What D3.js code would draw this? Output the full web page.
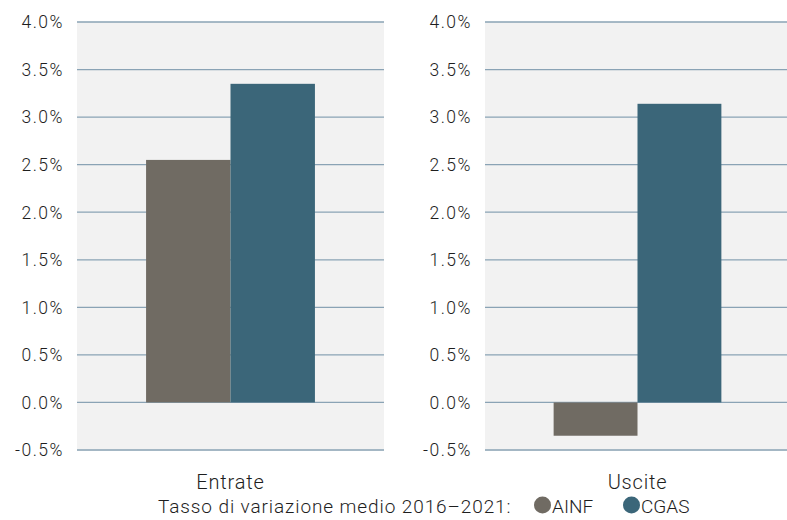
<!DOCTYPE html>
<html>
<head>
<meta charset="utf-8">
<script src="https://cdn.jsdelivr.net/npm/d3@7"></script>
<style>
body { margin: 0; background: #fff; }
svg text { font-family: Roboto, "Liberation Sans", sans-serif; font-weight: 300; fill: #1e1e1e; }
</style>
</head>
<body>
<svg id="chart" width="787" height="520"></svg>
<script>
// data
var panels = ["Entrate", "Uscite"];
var seriesNames = ["AINF", "CGAS"];
var ainf = [2.55, -0.35];
var cgas = [3.35, 3.14];
var yTicks = [-0.5, 0, 0.5, 1, 1.5, 2, 2.5, 3, 3.5, 4];
var legendTitle = "Tasso di variazione medio 2016\u20132021:";

var colors = {AINF: "#706b63", CGAS: "#3b6679"};
var svg = d3.select("#chart");

var y = d3.scaleLinear().domain([-0.5, 4]).range([450, 22]);
// plain hyphen for negatives, like the original
var fmt = d3.formatLocale({decimal: ".", thousands: ",", grouping: [3], currency: ["", ""], minus: "-"})
    .format(".1f");

// two panels, each with its own y axis
var panelX = [[77, 384], [485, 790]];

panels.forEach(function(name, p){
    var x0 = panelX[p][0], x1 = panelX[p][1];
    var g = svg.append("g");

    g.append("rect")
        .attr("x", x0).attr("y", y(4))
        .attr("width", x1 - x0).attr("height", y(-0.5) - y(4) + 1)
        .attr("fill", "#f2f2f2");

    // gridlines
    g.selectAll("line.grid").data(yTicks).enter().append("line")
        .attr("class", "grid")
        .attr("x1", x0).attr("x2", x1)
        .attr("y1", function(d){ return y(d); })
        .attr("y2", function(d){ return y(d); })
        .attr("stroke", "#8aa3b5").attr("stroke-width", 1.3);

    // tick labels
    g.selectAll("text.tick").data(yTicks).enter().append("text")
        .attr("class", "tick")
        .attr("x", x0 - 13)
        .attr("y", function(d){ return y(d) + 6.3; })
        .attr("text-anchor", "end")
        .attr("font-size", 17.5)
        .attr("letter-spacing", 1.5)
        .text(function(d){ return fmt(d) + "%"; });

    // bars
    var band = d3.scaleBand().domain(seriesNames)
        .range([x0 + (x1 - x0) * 0.225, x1 - (x1 - x0) * 0.225]);
    var vals = [ainf[p], cgas[p]];
    g.selectAll("rect.bar").data(vals).enter().append("rect")
        .attr("class", "bar")
        .attr("x", function(d, i){ return band(seriesNames[i]); })
        .attr("width", band.bandwidth())
        .attr("y", function(d){ return y(Math.max(0, d)); })
        .attr("height", function(d){ return Math.abs(y(d) - y(0)); })
        .attr("fill", function(d, i){ return colors[seriesNames[i]]; });

    g.append("text")
        .attr("x", (band.range()[0] + band.range()[1]) / 2)
        .attr("y", 489)
        .attr("text-anchor", "middle")
        .attr("font-size", 20)
        .attr("letter-spacing", 0.8)
        .text(name);
});

// legend
var legend = svg.append("g");
legend.append("text")
    .attr("x", 158).attr("y", 512.5)
    .attr("font-size", 19)
    .attr("letter-spacing", 0.9)
    .text(legendTitle);

var legendX = [542.5, 631.5];
seriesNames.forEach(function(s, i){
    legend.append("circle")
        .attr("cx", legendX[i]).attr("cy", 505).attr("r", 8.5)
        .attr("fill", colors[s]);
    legend.append("text")
        .attr("x", legendX[i] + 9.5).attr("y", 512.5)
        .attr("font-size", 19)
        .text(s);
});
</script>
</body>
</html>
